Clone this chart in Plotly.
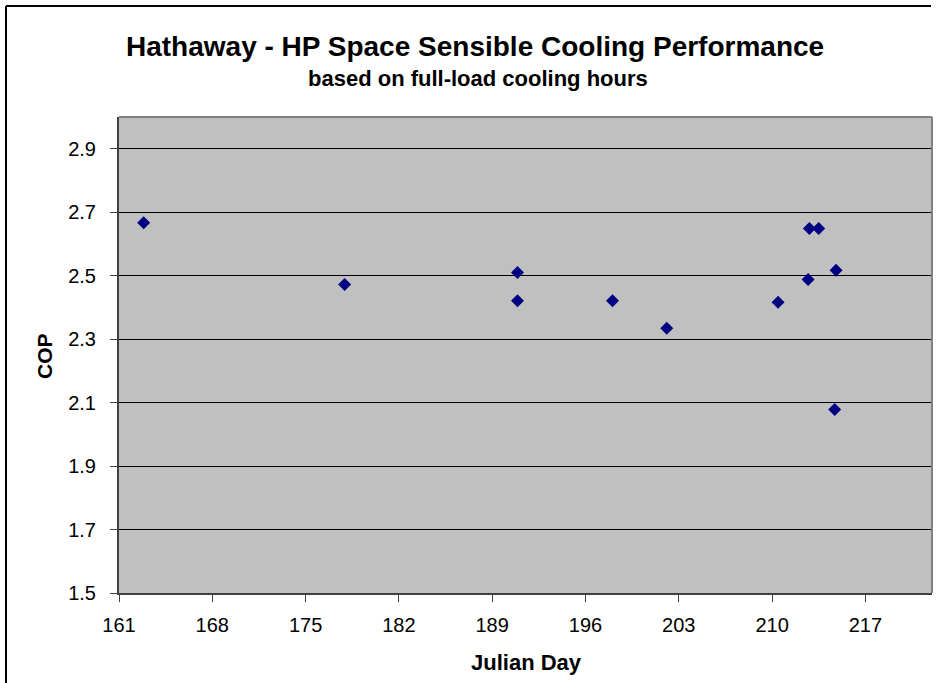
import plotly.graph_objects as go

julian_day = [162.85, 177.93, 190.9, 190.9, 198.03, 202.1, 210.45, 212.7, 212.8, 213.5, 214.8, 214.7]
cop = [2.667, 2.472, 2.510, 2.421, 2.421, 2.334, 2.416, 2.488, 2.649, 2.649, 2.517, 2.078]

x_ticks = [161, 168, 175, 182, 189, 196, 203, 210, 217]
y_ticks = [1.5, 1.7, 1.9, 2.1, 2.3, 2.5, 2.7, 2.9]

W, H = 940, 683
L, R, T, B = 119, 8, 117, 90
pw, ph = W - L - R, H - T - B

def px(x):
    return (x - L) / pw

def py(y):
    return (H - B - y) / ph

fig = go.Figure()
fig.add_trace(go.Scatter(
    x=julian_day, y=cop, mode="markers",
    marker=dict(symbol="diamond", size=10, color="#000080",
                line=dict(width=0)),
    showlegend=False, hoverinfo="x+y"))

font = "Arial, Liberation Sans, sans-serif"
fig.update_layout(
    width=W, height=H,
    margin=dict(l=L, r=R, t=T, b=B),
    paper_bgcolor="white", plot_bgcolor="#C0C0C0",
    font=dict(family=font, color="black"),
    xaxis=dict(range=[161, 222], tickvals=x_ticks,
               ticks="outside", ticklen=7, tickcolor="#404040", tickwidth=1,
               showgrid=False, zeroline=False,
               showline=True, linecolor="#404040", linewidth=2,
               tickfont=dict(size=20, family=font), ticklabelstandoff=6),
    yaxis=dict(range=[1.5, 3.0], tickvals=y_ticks, tickformat=".1f",
               ticks="outside", ticklen=7, tickcolor="#404040", tickwidth=1,
               showgrid=True, gridcolor="black", gridwidth=1, zeroline=False,
               showline=True, linecolor="#404040", linewidth=2,
               tickfont=dict(size=20, family=font), ticklabelstandoff=10),
)

# plot area top/right border
fig.add_shape(type="line", xref="paper", yref="paper", x0=0, x1=1, y0=1, y1=1,
              line=dict(color="#808080", width=2))
fig.add_shape(type="line", xref="paper", yref="paper", x0=1, x1=1, y0=0, y1=1,
              line=dict(color="#808080", width=2))
# chart frame (left and top)
fig.add_shape(type="line", xref="paper", yref="paper", x0=px(6), x1=px(6), y0=py(683), y1=py(6),
              line=dict(color="black", width=2))
fig.add_shape(type="line", xref="paper", yref="paper", x0=px(6), x1=px(931), y0=py(6), y1=py(6),
              line=dict(color="black", width=2))

fig.add_annotation(text="<b>Hathaway - HP Space Sensible Cooling Performance</b>",
                   xref="paper", yref="paper", x=px(475), y=py(46), showarrow=False,
                   font=dict(size=28, family=font), xanchor="center", yanchor="middle")
fig.add_annotation(text="<b>based on full-load cooling hours</b>",
                   xref="paper", yref="paper", x=px(478), y=py(78), showarrow=False,
                   font=dict(size=22, family=font), xanchor="center", yanchor="middle")
fig.add_annotation(text="<b>Julian Day</b>",
                   xref="paper", yref="paper", x=px(526), y=py(662), showarrow=False,
                   font=dict(size=22, family=font), xanchor="center", yanchor="middle")
fig.add_annotation(text="<b>COP</b>", textangle=-90,
                   xref="paper", yref="paper", x=px(44), y=py(356), showarrow=False,
                   font=dict(size=21, family=font), xanchor="center", yanchor="middle")

fig.write_html("out.html", config={"displayModeBar": False},
               post_script="document.body.style.margin='0';")
